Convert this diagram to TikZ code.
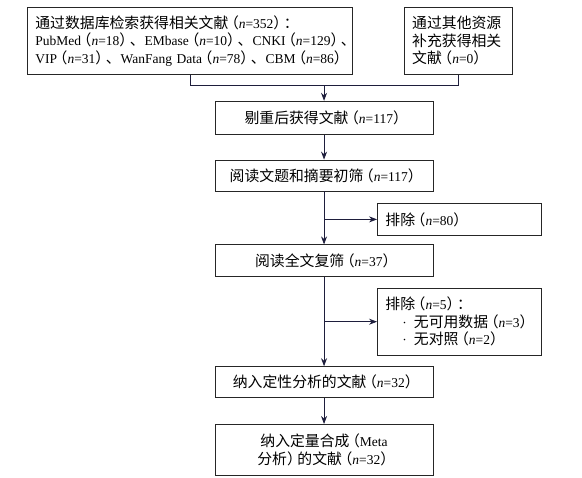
\documentclass[tikz,border=0pt]{standalone}
\usepackage{fontspec}
\setmainfont{Liberation Serif}
\newfontfamily\zhfont[Scale=1.1]{Noto Sans CJK SC}
\newfontfamily\zhhalt[Scale=1.1, RawFeature=+halt]{Noto Sans CJK SC}
\newcommand\zh[1]{{\zhfont #1}}
\newcommand\cnt[1]{\kern3pt{\zhhalt （}\textit{n}=#1{\zhhalt ）}\kern3pt}
\usetikzlibrary{positioning, arrows.meta, calc}
\definecolor{arrowink}{RGB}{30,30,60}

\begin{document}
\begin{tikzpicture}[
  >={Stealth[length=8pt, width=6pt]},
  every node/.style={font=\fontsize{13.5}{17.5}\selectfont},
  box/.style     = {draw=black!85, line width=0.8pt, inner xsep=8pt, inner ysep=0pt},
  srcbox/.style  = {box, align=left, minimum height=67pt},
  mainbox/.style = {box, align=center, minimum width=218pt, minimum height=32pt},
  exbox/.style   = {box, align=left, text width=148pt},
  link/.style    = {line width=0.8pt, draw=arrowink},
  arr/.style     = {link, ->},
]
  \useasboundingbox (0,0) rectangle (582pt,-478pt);
  % Two sources at top, merged into one column of screening steps.
  \node[srcbox, text width=309pt, anchor=north west] (db) at (27pt,-7pt)
    {\zh{通过数据库检索获得相关文献}\cnt{352}\zh{：}\\
     PubMed\cnt{18}\zh{、}EMbase\cnt{10}\zh{、}CNKI\cnt{129}\zh{、}\\
     VIP\cnt{31}\zh{、}WanFang~Data\cnt{78}\zh{、}CBM\cnt{86}};
  \node[srcbox, text width=92pt, anchor=north west] (other) at ([xshift=51pt]db.north east)
    {\zh{通过其他资源}\\\zh{补充获得相关}\\\zh{文献}\cnt{0}};
  \coordinate[below=11pt of db.south] (dbfoot);
  \coordinate (otherfoot) at (dbfoot -| other.south);
  \coordinate (merge) at ($(dbfoot)!0.5!(otherfoot)$);

  \node[mainbox, below=15pt of merge, minimum height=33pt] (dedup)  {\zh{剔重后获得文献}\cnt{117}};
  \node[mainbox, below=25pt of dedup, minimum height=31pt] (screen) {\zh{阅读文题和摘要初筛}\cnt{117}};
  \node[mainbox, below=53pt of screen]                     (full)   {\zh{阅读全文复筛}\cnt{37}};
  \node[mainbox, below=89pt of full, minimum height=31pt]  (qual)   {\zh{纳入定性分析的文献}\cnt{32}};
  \node[mainbox, below=26pt of qual, minimum height=51pt]  (quant)
    {\zh{纳入定量合成}\kern3pt{\zhhalt （}Meta\\\zh{分析}{\zhhalt ）}\kern3pt\zh{的文献}\cnt{32}};

  % Exclusions on the right
  \node[exbox, minimum height=32pt, anchor=west] (ex1) at ($(screen.south)!0.5!(full.north)+(53pt,-1.5pt)$)
    {\zh{排除}\cnt{80}};
  \node[exbox, minimum height=67pt, anchor=west] (ex2) at ($(full.south)!0.5!(qual.north)+(53pt,0)$)
    {\zh{排除}\cnt{5}\zh{：}\\
     \hspace*{17pt}·\kern7pt\zh{无可用数据}\cnt{3}\\
     \hspace*{17pt}·\kern7pt\zh{无对照}\cnt{2}};

  \draw[link] (db.south) -- (dbfoot) -- (otherfoot) -- (other.south);
  \draw[arr] (merge) -- (dedup);
  \foreach \a/\b in {dedup/screen, screen/full, full/qual, qual/quant}
     \draw[arr] (\a) -- (\b);
  \draw[arr] (ex1.west -| screen.south) -- (ex1.west);
  \draw[arr] (ex2.west -| full.south) -- (ex2.west);
\end{tikzpicture}
\end{document}
